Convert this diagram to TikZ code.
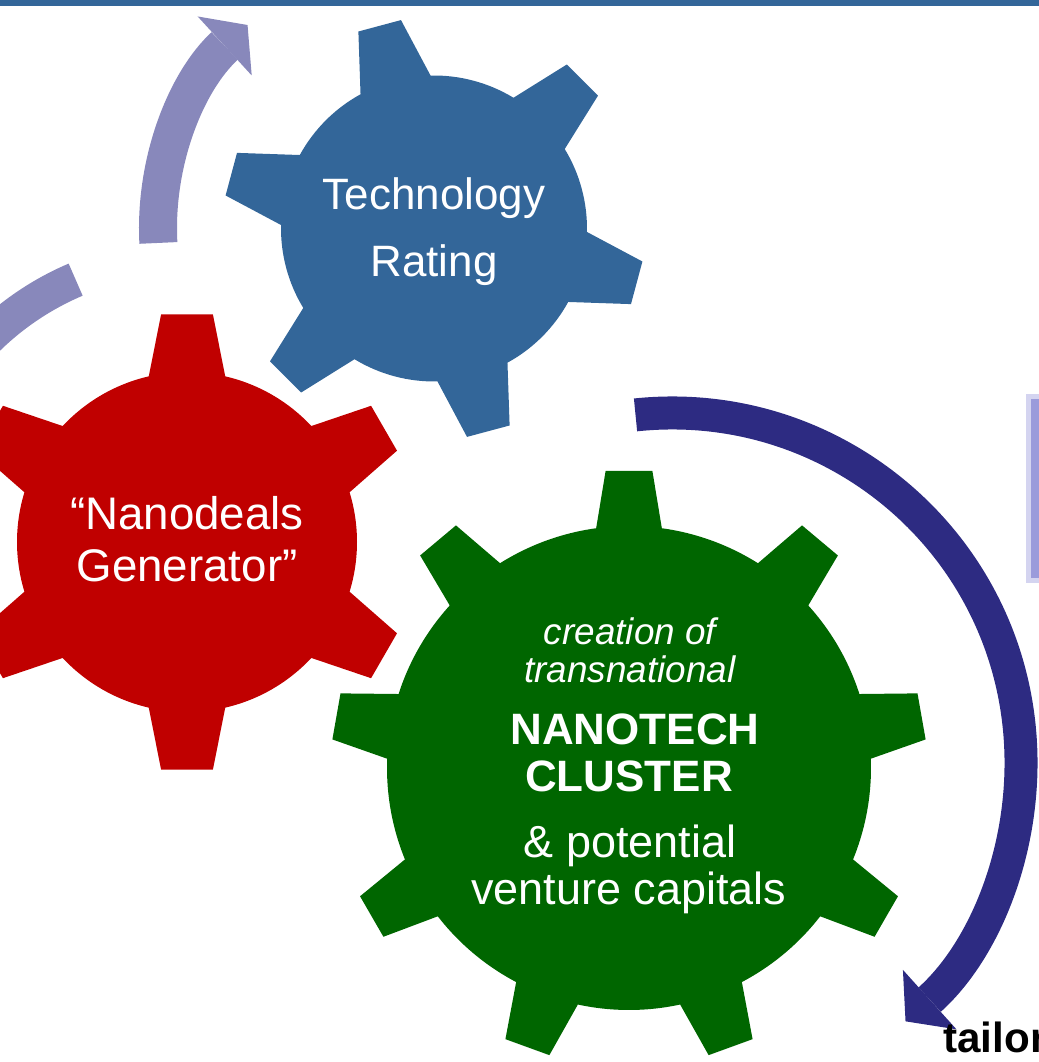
\documentclass[tikz,border=0pt]{standalone}
\usepackage{fontspec}
\setmainfont{Liberation Sans}
\usetikzlibrary{arrows.meta}

\definecolor{gearblue}{RGB}{51,102,153}
\definecolor{gearred}{RGB}{192,0,0}
\definecolor{geargreen}{RGB}{0,102,0}
\definecolor{lavender}{RGB}{136,136,187}
\definecolor{arcnavy}{RGB}{45,43,130}
\definecolor{boxfill}{RGB}{155,155,219}
\definecolor{boxedge}{RGB}{212,212,240}

% teeth, body radius, tip radius, half angle at body, half angle at tip, first tooth
\newcommand{\gearshape}[6]{%
	(#6-#4:#2) \foreach \k [evaluate=\k as \a using #6+(\k-1)*360/#1] in {1,...,#1} {
		-- (\a-#4:#2) -- (\a-#5:#3) -- (\a+#5:#3) -- (\a+#4:#2)
		arc[start angle=\a+#4, end angle=\a+360/#1-#4, radius=#2]
	} -- cycle}

\tikzset{
	geartext/.style={text=white, inner sep=0pt, anchor=base},
	bigtext/.style={geartext, font=\fontsize{25}{30}\selectfont},
	redtext/.style={geartext, font=\fontsize{26}{31}\selectfont},
	smalltext/.style={geartext, font=\fontsize{21}{25}\selectfont\itshape},
	boldtext/.style={geartext, font=\fontsize{25}{30}\selectfont\bfseries},
	plaintext/.style={geartext, font=\fontsize{25.6}{30}\selectfont},
	lavline/.style={draw=lavender, line width=7mm},
	lavarrow/.style={draw=lavender, line width=7.6mm, -{Triangle[width=16mm, length=6.2mm, line width=0pt]}},
	navyarrow/.style={draw=arcnavy, line width=6.6mm, -{Triangle[width=16mm, length=6.5mm, line width=0pt]}}
}

\begin{document}
\begin{tikzpicture}[x=0.2mm, y=0.2mm]
	\useasboundingbox (0,0) rectangle (1039,1062);
	\clip (0,0) rectangle (1039,1062);
	\coordinate (B) at (434,833.5);
	\coordinate (R) at (187,520);
	\coordinate (G) at (629,294);
	\coordinate (N) at (672,300);

	\fill[gearblue] (0,1056) rectangle (1039,1062);
	\filldraw[fill=boxfill, draw=boxedge, line width=1mm] (1028,481) rectangle (1070,665);

	\begin{scope}[shift=(B)]
		\fill[gearblue] \gearshape{6}{153}{211}{13.7}{6}{-15};
	\end{scope}
	\begin{scope}[shift=(R)]
		\fill[gearred] \gearshape{6}{170}{229}{13}{6.5}{90};
	\end{scope}
	\begin{scope}[shift=(G)]
		\fill[geargreen] \gearshape{9}{242}{298}{7.8}{4.5}{90};
	\end{scope}

	\draw[lavline] ([shift={(150:285)}]R) arc[start angle=150, end angle=113, radius=285];
	\draw[lavarrow] ([shift={(183:276)}]B) arc[start angle=183, end angle=132.5, radius=276];
	\draw[navyarrow] ([shift={(96:349)}]N) arc[start angle=96, end angle=-48, radius=349];

	\node[bigtext] (tech) at (434,852) {Technology};
	\node[bigtext] (rating) at (434,785) {Rating};
	\node[redtext] (nano) at (187,532) {“Nanodeals};
	\node[redtext] (gen) at (187,480) {Generator”};
	\node[smalltext] (creation) at (630,417) {creation of};
	\node[smalltext] (trans) at (630,379) {transnational};
	\node[boldtext] (nanotech) at (635,317) {NANOTECH};
	\node[boldtext] (cluster) at (629,270) {CLUSTER};
	\node[plaintext] (potential) at (630,204) {\& potential};
	\node[plaintext] (venture) at (629,157) {venture capitals};
	\node[inner sep=0pt, anchor=base west, font=\fontsize{24}{28}\selectfont\bfseries] (tailor) at (943,10) {tailor};
\end{tikzpicture}
\end{document}
